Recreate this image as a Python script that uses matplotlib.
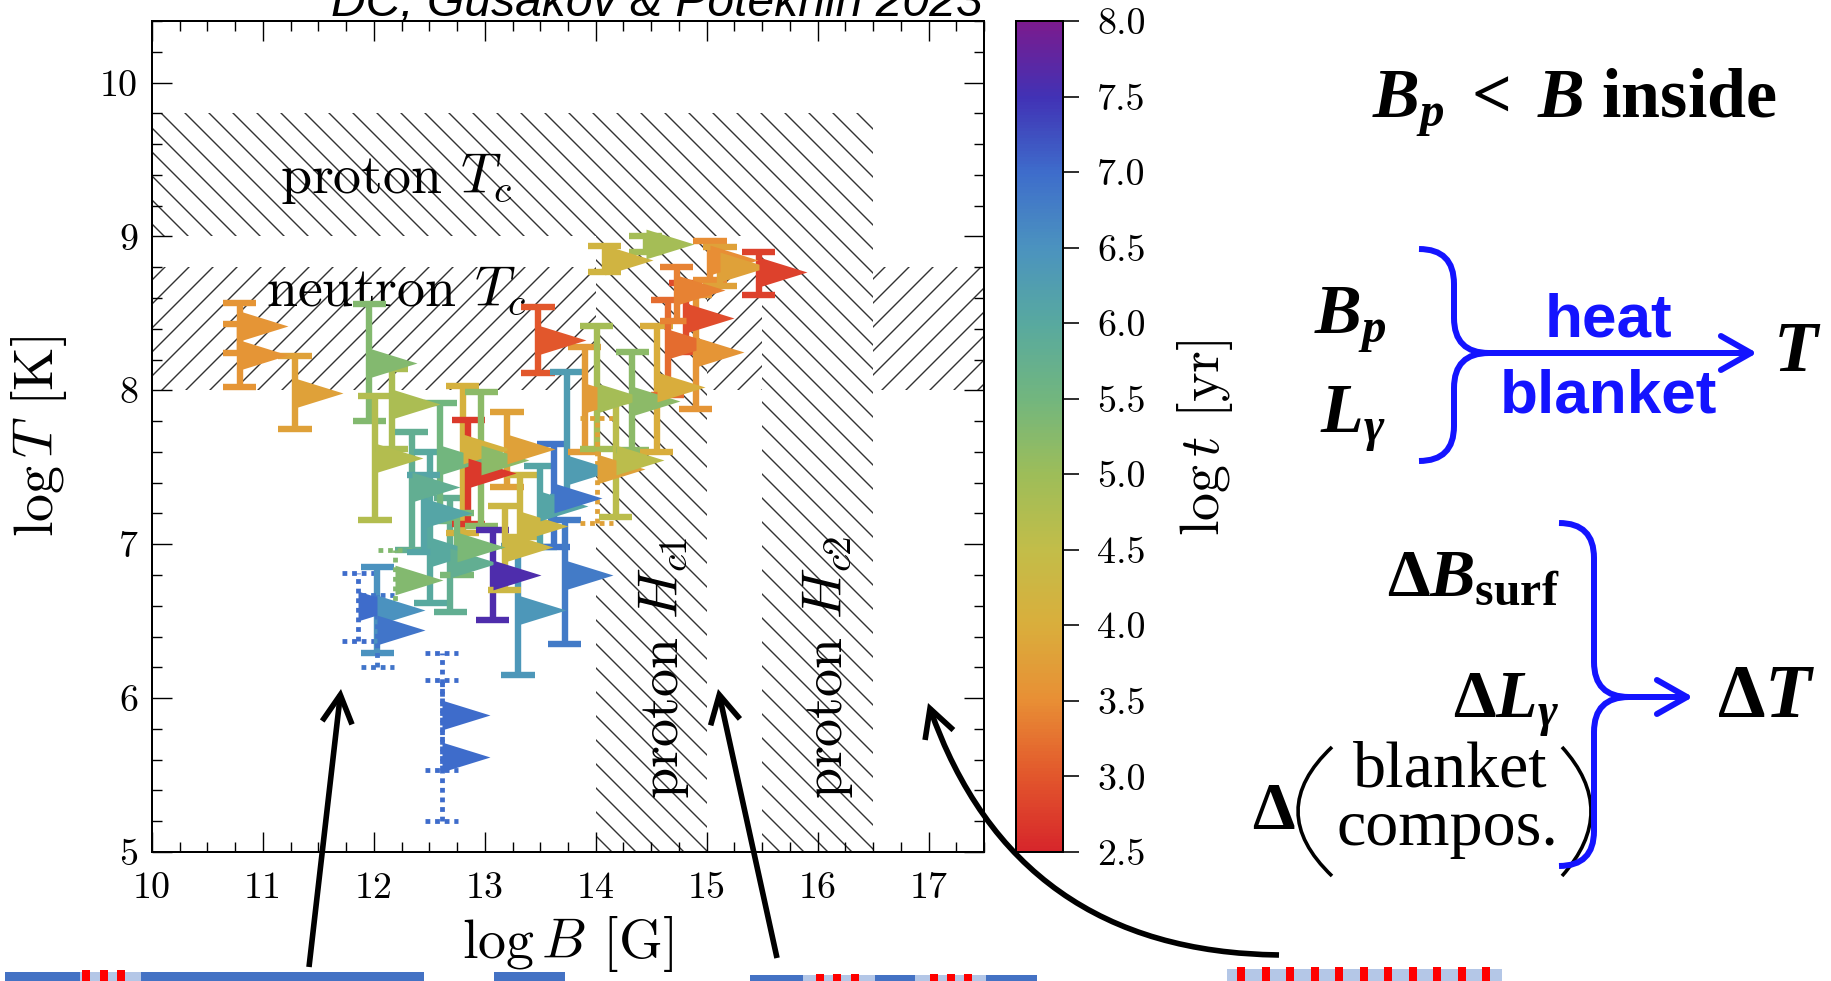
import numpy as np
import matplotlib
matplotlib.use("Agg")
import matplotlib.pyplot as plt
from matplotlib.colors import LinearSegmentedColormap, Normalize
from matplotlib.cm import ScalarMappable
from matplotlib.patches import Rectangle, PathPatch, FancyArrowPatch, ArrowStyle
from matplotlib.path import Path
from matplotlib.ticker import MultipleLocator

plt.rcParams['font.family'] = 'serif'
plt.rcParams['font.serif'] = ['cmr10']
plt.rcParams['mathtext.fontset'] = 'cm'
plt.rcParams['axes.formatter.use_mathtext'] = True
plt.rcParams['axes.unicode_minus'] = False
plt.rcParams['hatch.linewidth'] = 0.7
# fonts used by the right-hand scheme (math_fontfamily='custom')
plt.rcParams['mathtext.rm'] = 'Liberation Serif:bold'
plt.rcParams['mathtext.it'] = 'Liberation Serif:italic:bold'
plt.rcParams['mathtext.bf'] = 'Liberation Serif:bold'

# sources: field, temperature with error range, age, dotted error bar
logB = [10.79, 10.79, 11.29, 11.96, 12.01, 12.16, 12.34, 12.51, 12.69, 12.60,
        12.80, 12.85, 12.97, 13.20, 13.32, 13.50, 13.62, 13.07, 13.30, 13.72,
        13.18, 12.75, 11.86, 12.03, 12.03, 12.19, 12.61, 12.61, 13.48, 13.74,
        13.90, 14.01, 14.01, 14.18, 14.33, 14.55, 14.65, 14.81, 14.90, 14.08,
        14.45, 15.03, 15.12, 15.47, 14.73, 12.45]
logT = [8.42, 8.23, 7.98, 8.18, 7.56, 7.91, 7.37, 6.95, 6.88, 7.55,
        7.62, 7.46, 7.55, 7.62, 7.12, 7.25, 7.30, 6.80, 6.57, 6.80,
        6.98, 6.98, 6.60, 6.57, 6.44, 6.77, 5.89, 5.62, 8.33, 7.48,
        7.95, 7.95, 7.49, 7.55, 7.93, 8.02, 8.30, 8.47, 8.25, 8.85,
        8.95, 8.85, 8.80, 8.77, 8.65, 7.20]
logT_lo = [8.24, 8.02, 7.75, 7.80, 7.16, 7.62, 6.96, 6.62, 6.56, 7.15,
           7.07, 7.13, 7.12, 7.37, 7.05, 6.98, 6.98, 6.51, 6.15, 6.35,
           6.70, 6.80, 6.37, 6.29, 6.20, 6.57, 5.53, 5.20, 8.11, 7.31,
           7.60, 7.62, 7.14, 7.18, 7.61, 7.60, 7.97, 8.25, 7.88, 8.77,
           8.90, 8.72, 8.68, 8.62, 8.45, 6.95]
logT_hi = [8.57, 8.43, 8.22, 8.56, 7.96, 8.14, 7.73, 7.60, 7.30, 7.92,
           8.03, 7.81, 7.99, 7.86, 7.45, 7.51, 7.65, 7.09, 6.99, 7.16,
           7.25, 7.20, 6.81, 6.85, 6.67, 6.96, 6.29, 6.12, 8.54, 8.12,
           8.28, 8.42, 7.82, 7.93, 8.25, 8.42, 8.59, 8.70, 8.62, 8.94,
           9.00, 8.97, 8.93, 8.90, 8.80, 7.45]
log_age = [3.6, 3.6, 3.8, 5.3, 4.7, 4.8, 5.8, 6.0, 5.8, 5.5,
           4.1, 2.7, 5.2, 3.8, 4.3, 6.1, 6.9, 7.6, 6.4, 6.8,
           4.3, 5.4, 7.0, 6.5, 6.9, 5.3, 7.0, 7.0, 3.0, 6.3,
           3.7, 4.9, 3.8, 4.6, 5.2, 4.0, 3.2, 2.9, 3.6, 4.2,
           4.9, 3.5, 3.8, 2.8, 3.4, 6.1]
dotted = [0, 0, 0, 0, 0, 0, 0, 0, 0, 0,
          0, 0, 0, 0, 0, 0, 0, 0, 0, 0,
          0, 0, 1, 0, 1, 1, 1, 1, 0, 0,
          0, 0, 1, 0, 0, 0, 0, 0, 0, 0,
          0, 0, 0, 0, 0, 0]

# hatched regions: name, B range, T range
region_names = ['proton Tc', 'neutron Tc', 'proton Hc1', 'proton Hc2']
region_B = [(10.0, 16.5), (10.0, 17.5), (14.0, 15.0), (15.5, 16.5)]
region_T = [(9.0, 9.8), (8.0, 8.8), (5.0, 9.0), (5.0, 9.0)]

xticks = [10, 11, 12, 13, 14, 15, 16, 17]
yticks = [5, 6, 7, 8, 9, 10]
cbar_ticks = [2.5, 3.0, 3.5, 4.0, 4.5, 5.0, 5.5, 6.0, 6.5, 7.0, 7.5, 8.0]
age_stops = [2.5, 3.0, 3.5, 4.0, 4.5, 5.0, 5.5, 6.0, 6.5, 7.0, 7.5, 8.0]
age_colors = ['#d7262b', '#e2572c', '#e88f35', '#d9ae3c', '#c2bd49', '#9dbd59',
              '#72b67e', '#58a99f', '#4b93bf', '#3e6dcb', '#4132b5', '#7b1b8e']

W, H, DPI = 1831, 981, 144


def fp(x, y):
    # pixel position in the picture (y down) -> figure fraction
    return (x / W, 1 - y / H)


fig = plt.figure(figsize=(W / DPI, H / DPI), dpi=DPI)
fig.patch.set_facecolor('white')

ax = fig.add_axes([152 / W, 1 - 852 / H, 832 / W, 831 / H])
ax.set_xlim(10, 17.5)
ax.set_ylim(5, 10.4)

# superfluid / superconducting regions
hatches = ['\\\\', '//', '\\\\', '\\\\']
faces = ['none', 'none', 'white', 'white']
for (b0, b1), (t0, t1), hh, fc in zip(region_B, region_T, hatches, faces):
    ax.add_patch(Rectangle((b0, t0), b1 - b0, t1 - t0, facecolor=fc,
                           edgecolor='0.2', lw=0, hatch=hh, zorder=1))

ax.text(11.15, 9.28, r'proton $T_c$', fontsize=28, ha='left', va='baseline', zorder=2)
ax.text(11.03, 8.55, r'neutron $T_c$', fontsize=28, ha='left', va='baseline', zorder=2)
ax.text(14.61, 6.2, r'proton $H_{c1}$', fontsize=28, rotation=90, ha='center',
        va='center', rotation_mode='anchor', zorder=2)
ax.text(16.09, 6.2, r'proton $H_{c2}$', fontsize=28, rotation=90, ha='center',
        va='center', rotation_mode='anchor', zorder=2)

cmap = LinearSegmentedColormap.from_list(
    'age', [((v - 2.5) / 5.5, c) for v, c in zip(age_stops, age_colors)])
norm = Normalize(2.5, 8.0)

# right-pointing flag marker with its base on the error bar
tri = Path([(0, -0.31), (1, 0), (0, 0.31), (0, -0.31)],
           [Path.MOVETO, Path.LINETO, Path.LINETO, Path.CLOSEPOLY])
cap = 0.15
for b, t, lo, hi, age, dot in zip(logB, logT, logT_lo, logT_hi, log_age, dotted):
    c = cmap(norm(age))
    ls = (0, (1.0, 1.0)) if dot else 'solid'
    lw = 2.4 if dot else 3.2
    ax.vlines(b, lo, hi, colors=[c], lw=lw, linestyles=[ls], zorder=3)
    ax.hlines([lo, hi], b - cap, b + cap, colors=[c], lw=lw, linestyles=[ls], zorder=3)
    ax.plot(b, t, marker=tri, ms=48, color=c, mec='none', ls='none', zorder=4)

ax.set_xticks(xticks)
ax.set_xticklabels([str(v) for v in xticks])
ax.set_yticks(yticks)
ax.set_yticklabels([str(v) for v in yticks])
ax.xaxis.set_minor_locator(MultipleLocator(0.25))
ax.yaxis.set_minor_locator(MultipleLocator(0.2))
ax.tick_params(which='both', direction='in', top=True, right=True, width=0.7)
ax.tick_params(which='major', length=10, labelsize=19)
ax.tick_params(axis='x', which='major', pad=10)
ax.tick_params(axis='y', which='major', pad=7)
ax.tick_params(which='minor', length=5)
for sp in ax.spines.values():
    sp.set_linewidth(1.0)
ax.set_xlabel(r'$\log B$ [G]', fontsize=28)
ax.xaxis.set_label_coords(0.5, -0.075)
ax.set_ylabel(r'$\log T$ [K]', fontsize=28)
ax.yaxis.set_label_coords(-0.10, 0.5)

# colour bar
cax = fig.add_axes([1016 / W, 1 - 852 / H, 47 / W, 831 / H])
cb = fig.colorbar(ScalarMappable(norm=norm, cmap=cmap), cax=cax, ticks=cbar_ticks)
cb.ax.set_yticklabels(['%.1f' % v for v in cbar_ticks])
cb.ax.tick_params(direction='out', length=8, width=0.8, labelsize=19, pad=9)
cb.outline.set_linewidth(1.0)
fig.text(*fp(1205, 438), r'$\log t$ [yr]', fontsize=28, rotation=90,
         ha='center', va='center')

fig.text(*fp(657, 16), 'DC, Gusakov & Potekhin 2023', fontsize=24,
         family='Liberation Sans', style='italic', ha='center', va='baseline')

# black pointers from the surface pictures
bstyle = ArrowStyle('->', head_length=14, head_width=7.5)
for (x0, y0), (x1, y1), rad in [((309, 967), (341, 689), 0.0),
                                ((777, 958), (718, 689), 0.0),
                                ((1279, 955), (928, 703), -0.35)]:
    fig.add_artist(FancyArrowPatch(fp(x0, y0), fp(x1, y1), transform=fig.transFigure,
                                   arrowstyle=bstyle, connectionstyle='arc3,rad=%g' % rad,
                                   lw=2.8, color='black', shrinkA=0, shrinkB=0,
                                   joinstyle='miter', capstyle='butt'))

# decorative surface strips cut at the bottom edge
dark, light, red = '#4472c4', '#b4c7e7', '#ff0000'
strips = [(5, 424, 972, dark), (80, 141, 972, light), (494, 565, 972, dark),
          (750, 1037, 975, dark), (803, 875, 975, light), (915, 986, 975, light),
          (1227, 1502, 969, light)]
for x0, x1, y0, col in strips:
    fig.add_artist(Rectangle(fp(x0, H), (x1 - x0) / W, (H - y0) / H,
                             transform=fig.transFigure, color=col, lw=0))
bars = [82, 100, 117, 816, 833, 851, 930, 947, 964] + \
       [1237 + 24.5 * i for i in range(11)]
for i, x in enumerate(bars):
    y0 = 970 if x < 200 else (974 if x < 1200 else 967)
    fig.add_artist(Rectangle(fp(x, H), 8 / W, (H - y0) / H,
                             transform=fig.transFigure, color=red, lw=0))

# right-hand scheme
blue = '#1414ff'
fig.text(*fp(1372, 117), r'$B_p\;<\;B$ inside', fontsize=35, family='Liberation Serif',
         weight='bold', math_fontfamily='custom', ha='left', va='baseline')
fig.text(*fp(1314, 333), r'$B_p$', fontsize=35, math_fontfamily='custom',
         ha='left', va='baseline')
fig.text(*fp(1320, 432), r'$L_\gamma$', fontsize=35, math_fontfamily='custom',
         ha='left', va='baseline')
fig.text(*fp(1608, 321), 'heat', fontsize=31, family='Liberation Sans', weight='bold',
         color=blue, ha='center', va='center')
fig.text(*fp(1609, 397), 'blanket', fontsize=31, family='Liberation Sans', weight='bold',
         color=blue, ha='center', va='center')
fig.text(*fp(1797, 353), r'$T$', fontsize=36, math_fontfamily='custom',
         ha='center', va='center')

fig.text(*fp(1559, 596), r'$\Delta B_{\mathrm{surf}}$', fontsize=34,
         math_fontfamily='custom', ha='right', va='baseline')
fig.text(*fp(1559, 718), r'$\Delta L_\gamma$', fontsize=34,
         math_fontfamily='custom', ha='right', va='baseline')
fig.text(*fp(1252, 829), r'$\Delta$', fontsize=34, math_fontfamily='custom',
         ha='left', va='baseline')
fig.text(*fp(1450, 771), 'blanket', fontsize=33, family='Liberation Serif',
         ha='center', va='center')
fig.text(*fp(1447, 829), 'compos.', fontsize=33, family='Liberation Serif',
         ha='center', va='center')
fig.text(*fp(1766, 698), r'$\Delta T$', fontsize=38, math_fontfamily='custom',
         ha='center', va='center')


def add_path(pts, codes, **kw):
    verts = [fp(x, y) for x, y in pts]
    fig.add_artist(PathPatch(Path(verts, codes), transform=fig.transFigure,
                             facecolor='none', **kw))


# big parentheses
M, C, L = Path.MOVETO, Path.CURVE3, Path.LINETO
add_path([(1332, 747), (1264, 811), (1332, 876)], [M, C, C], edgecolor='black', lw=1.8)
add_path([(1562, 747), (1620, 811), (1562, 876)], [M, C, C], edgecolor='black', lw=1.8)


def brace(x_end, x_mid, x_j, y_top, y_j, y_bot, r=35):
    pts = [(x_end, y_top), (x_mid, y_top), (x_mid, y_top + r), (x_mid, y_j - r),
           (x_mid, y_j), (x_j, y_j),
           (x_j, y_j), (x_mid, y_j), (x_mid, y_j + r), (x_mid, y_bot - r),
           (x_mid, y_bot), (x_end, y_bot)]
    codes = [M, C, C, L, C, C, M, C, C, L, C, C]
    add_path(pts, codes, edgecolor=blue, lw=3.0, capstyle='butt')


brace(1419, 1454, 1489, 249, 353, 461)
brace(1559, 1594, 1629, 523, 697, 866)
ustyle = ArrowStyle('->', head_length=15, head_width=8.5)
for (x0, y0), (x1, y1) in [((1487, 353), (1757, 353)), ((1627, 697), (1693, 697))]:
    fig.add_artist(FancyArrowPatch(fp(x0, y0), fp(x1, y1), transform=fig.transFigure,
                                   arrowstyle=ustyle, lw=3.0, color=blue,
                                   shrinkA=0, shrinkB=0, capstyle='round'))

fig.savefig('out.png', dpi=DPI)
